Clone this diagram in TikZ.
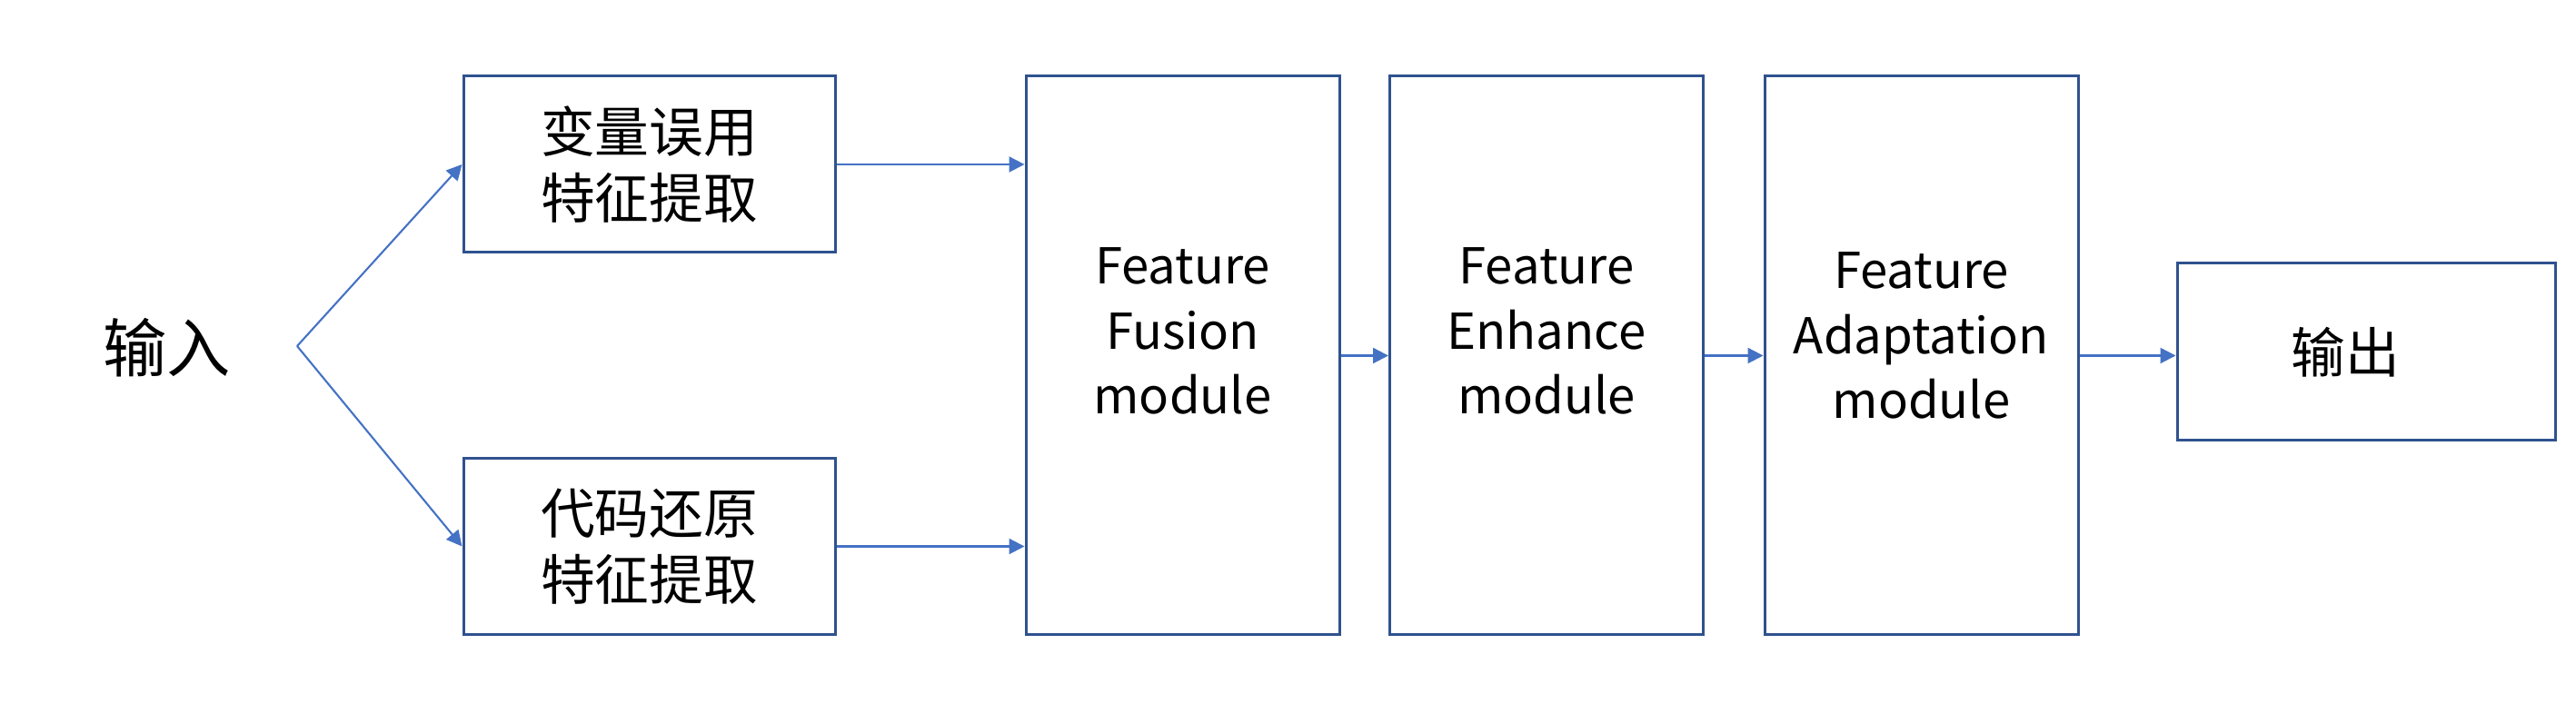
\documentclass[tikz,border=0pt]{standalone}
\usepackage{fontspec}
\setmainfont{Noto Sans CJK SC}
\usetikzlibrary{arrows.meta}
\definecolor{boxline}{HTML}{2F528F}
\definecolor{arrowline}{HTML}{4472C4}

\begin{document}
\begin{tikzpicture}
  [box/.style={draw=boxline,line width=0.85pt,align=center,inner sep=0pt},
   small/.style={box,minimum width=4.09cm,minimum height=1.94cm,font=\fontsize{17}{20.7}\selectfont},
   module/.style={box,minimum width=3.45cm,minimum height=6.15cm},
   modtext/.style={align=center,font=\fontsize{15.5}{20.4}\selectfont},
   conn/.style={draw=arrowline,line width=0.6pt,-{Triangle[length=1.7mm,width=1.7mm]}}]
  \useasboundingbox (0,0) rectangle (28.35,7.75);

  \node (in) at (1.84,3.92) {\fontsize{20}{24}\selectfont 输入};
  \coordinate (split) at (3.27,3.94);

  \node[small] (b1) at (7.145,5.94) {变量误用\\特征提取};
  \node[small] (b2) at (7.145,1.735) {代码还原\\特征提取};

  \node[module,label={[modtext,yshift=2.7mm]center:Feature\\Fusion\\module}] (fuse) at (13.015,3.835) {};
  \node[module,label={[modtext,yshift=2.7mm]center:Feature\\Enhance\\module}] (enh) at (17.02,3.835) {};
  \node[module,label={[modtext,yshift=2.2mm]center:Feature\\Adaptation\\module}] (adapt) at (21.145,3.835) {};

  \node[small,minimum width=4.16cm,minimum height=1.95cm,
        label={[font=\fontsize{17}{20.7}\selectfont,xshift=-2.3mm]center:输出}] (out) at (26.04,3.875) {};

  \draw[conn] (split) -- (b1.west);
  \draw[conn] (split) -- (b2.west);
  \foreach \from in {b1,b2}
    \draw[conn] (\from.east) -- (\from.east -| fuse.west);
  \foreach \from/\to in {fuse/enh,enh/adapt,adapt/out}
    \draw[conn] (\from.east) -- (\from.east -| \to.west);

\end{tikzpicture}
\end{document}
